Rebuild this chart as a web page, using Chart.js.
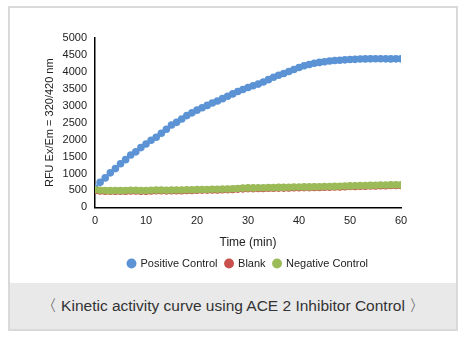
<!DOCTYPE html>
<html>
<head>
<meta charset="utf-8">
<script src="https://cdn.jsdelivr.net/npm/chart.js@4.4.1/dist/chart.umd.min.js"></script>
<style>
  html, body { margin: 0; padding: 0; background: #fff; }
  #frame {
    position: absolute; left: 8px; top: 6px;
    width: 450px; height: 325px; box-sizing: border-box;
    border: 2px solid #d9d9d9; background: #fff;
  }
  #plot { position: absolute; left: 0; top: 0; width: 446px; height: 275px; }
  #caption {
    position: absolute; left: 0; top: 275px; width: 446px; height: 46px;
    background: #e9e9e9; color: #333;
    font: 15.5px "Liberation Sans", Arial, sans-serif;
    line-height: 46px; text-align: center;
  }
</style>
</head>
<body>
<div id="frame">
  <div id="plot"><canvas id="kinetics"></canvas></div>
  <div id="caption">〈 Kinetic activity curve using ACE 2 Inhibitor Control 〉</div>
</div>
<script>
// time points (min)
const minutes = [
  0, 1, 2, 3, 4, 5, 6, 7, 8, 9, 10, 11, 12, 13, 14, 15, 16, 17, 18, 19, 20,
  21, 22, 23, 24, 25, 26, 27, 28, 29, 30, 31, 32, 33, 34, 35, 36, 37, 38, 39, 40,
  41, 42, 43, 44, 45, 46, 47, 48, 49, 50, 51, 52, 53, 54, 55, 56, 57, 58, 59, 60
];

// RFU readings
const positiveControl = [
  570, 740, 870, 1020, 1145, 1290, 1410, 1545, 1640, 1765, 1870,
  1980, 2070, 2190, 2305, 2430, 2510, 2610, 2710, 2790, 2870,
  2940, 3010, 3080, 3140, 3210, 3280, 3350, 3420, 3480, 3540,
  3590, 3640, 3700, 3770, 3840, 3900, 3950, 4010, 4070, 4130,
  4180, 4220, 4255, 4280, 4300, 4320, 4335, 4345, 4355, 4365,
  4370, 4378, 4383, 4385, 4388, 4388, 4385, 4383, 4385, 4385
];
const blank = [
  500, 485, 480, 478, 480, 475, 480, 485, 485, 480, 480,
  485, 490, 490, 488, 490, 495, 495, 500, 500, 505,
  510, 510, 515, 515, 520, 525, 530, 540, 548, 555,
  555, 560, 560, 565, 565, 570, 570, 575, 580, 580,
  585, 585, 590, 590, 595, 595, 600, 605, 610, 615,
  620, 625, 625, 630, 635, 640, 640, 645, 645, 645
];
const negativeControl = [
  520, 505, 500, 495, 500, 495, 500, 505, 505, 500, 500,
  505, 510, 510, 505, 510, 515, 515, 520, 520, 525,
  530, 530, 535, 535, 540, 545, 550, 560, 570, 575,
  575, 580, 580, 585, 585, 590, 590, 595, 600, 600,
  605, 605, 610, 610, 615, 615, 620, 625, 630, 635,
  640, 645, 645, 650, 655, 660, 660, 665, 665, 665
];

const seriesNames = ["Positive Control", "Blank", "Negative Control"];
const seriesColors = ["#5b93d5", "#c9504d", "#9bbb59"];

const FONT = "'Liberation Sans', Arial, sans-serif";

function points(values) {
  return minutes.map((m, i) => ({ x: m, y: values[i] }));
}

// lower order is painted last, so green sits over the red blank series
const datasets = [positiveControl, blank, negativeControl].map((vals, i) => ({
  label: seriesNames[i],
  data: points(vals),
  backgroundColor: seriesColors[i],
  borderColor: seriesColors[i],
  pointRadius: 3.8,
  pointBorderWidth: 0,
  showLine: false,
  order: 2 - i
}));

new Chart(document.getElementById("kinetics"), {
  type: "scatter",
  data: { datasets },
  options: {
    responsive: true,
    maintainAspectRatio: false,
    animation: false,
    layout: { padding: { top: 30, right: 55, left: 33, bottom: 4 } },
    plugins: {
      tooltip: { enabled: false },
      legend: {
        position: "bottom",
        fullSize: false,
        labels: {
          usePointStyle: true,
          pointStyle: "circle",
          boxWidth: 7,
          boxHeight: 7,
          padding: 8,
          color: "#222",
          font: { family: FONT, size: 11 },
          sort: (a, b) => a.datasetIndex - b.datasetIndex
        }
      }
    },
    scales: {
      x: {
        type: "linear",
        min: 0, max: 60,
        grid: { display: false, drawTicks: false },
        border: { color: "#000", width: 1.5 },
        ticks: { stepSize: 10, color: "#222", padding: 7, font: { family: FONT, size: 11 }, callback: v => v },
        title: { display: true, text: "Time (min)", color: "#222", padding: { top: 1, bottom: 0 }, font: { family: FONT, size: 12 } }
      },
      y: {
        min: 0, max: 5000,
        afterFit(scale) { scale.width = 52; },
        grid: { display: false, drawTicks: false },
        border: { color: "#000", width: 1.5 },
        ticks: { stepSize: 500, color: "#222", padding: 8, font: { family: FONT, size: 11 }, callback: v => v },
        title: { display: true, text: "RFU Ex/Em = 320/420 nm", color: "#222", padding: { top: 0, bottom: 4 }, font: { family: FONT, size: 11 } }
      }
    }
  }
});
</script>
</body>
</html>
